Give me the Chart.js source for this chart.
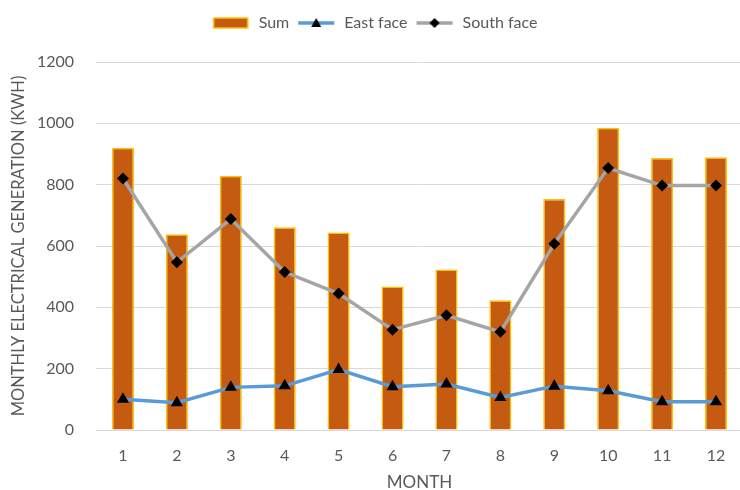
<!DOCTYPE html>
<html lang="en">
<head>
  <meta charset="UTF-8">
  <title>Monthly electrical generation</title>
  <style>
    body { margin: 0; overflow: hidden; background: #fff; }
    #wrap { width: 750px; height: 490px; }
  </style>
</head>
<body>
  <div id="wrap"><canvas id="myChart"></canvas></div>
  <script src="https://cdn.jsdelivr.net/npm/chart.js"></script>
  <script>
    const months = ['1', '2', '3', '4', '5', '6', '7', '8', '9', '10', '11', '12']
    const sumValues = [920, 638, 829, 661, 644, 468, 523, 423, 753, 986, 887, 889]
    const eastValues = [100, 89, 139, 144, 197, 141, 150, 106, 143, 128, 92, 92]
    const southValues = [820, 547, 688, 515, 445, 327, 374, 320, 607, 854, 797, 797]
    const yTicks = [0, 200, 400, 600, 800, 1000, 1200]

    const font = 'Lato'
    const textColor = '#595959'

    // little pictures for the legend: bar box, line with marker
    function legendIcon(kind) {
      const c = document.createElement('canvas')
      c.width = 40; c.height = 14
      const g = c.getContext('2d')
      if (kind === 'bar') {
        g.fillStyle = '#C55A11'
        g.fillRect(3, 2, 34, 10)
        g.strokeStyle = '#FFC000'
        g.lineWidth = 1.5
        g.strokeRect(3, 2, 34, 10)
      } else {
        g.strokeStyle = kind === 'tri' ? '#5B9BD5' : '#A5A5A5'
        g.lineWidth = 3.5
        g.beginPath(); g.moveTo(2, 7); g.lineTo(38, 7); g.stroke()
        g.fillStyle = '#000'
        g.beginPath()
        if (kind === 'tri') {
          g.moveTo(20, 2); g.lineTo(25, 11); g.lineTo(15, 11)
        } else {
          g.moveTo(20, 2); g.lineTo(25, 7); g.lineTo(20, 12); g.lineTo(15, 7)
        }
        g.closePath(); g.fill()
      }
      return c
    }
    const icons = [legendIcon('bar'), legendIcon('tri'), legendIcon('dia')]

    // extra room between legend and plot
    const legendGap = {
      id: 'legendGap',
      beforeInit(chart) {
        const fit = chart.legend.fit
        chart.legend.fit = function () {
          fit.bind(chart.legend)()
          this.height += 21
        }
      }
    }

    const ctx = document.getElementById('myChart')

    new Chart(ctx, {
      type: 'bar',
      data: {
        labels: months,
        datasets: [{
          label: 'Sum',
          data: sumValues,
          backgroundColor: '#C55A11',
          borderColor: '#FFC000',
          borderWidth: 1.5,
          barPercentage: 0.41,
          categoryPercentage: 1,
          order: 3
        }, {
          type: 'line',
          label: 'East face',
          data: eastValues,
          borderColor: '#5B9BD5',
          borderWidth: 3.5,
          pointStyle: 'triangle',
          pointRadius: 7,
          pointBackgroundColor: '#000',
          pointBorderColor: '#000',
          pointBorderWidth: 0,
          order: 2
        }, {
          type: 'line',
          label: 'South face',
          data: southValues,
          borderColor: '#A5A5A5',
          borderWidth: 3.5,
          pointStyle: 'rectRot',
          pointRadius: 6,
          pointBackgroundColor: '#000',
          pointBorderColor: '#000',
          pointBorderWidth: 0,
          order: 1
        }]
      },
      plugins: [legendGap],
      options: {
        responsive: true,
        maintainAspectRatio: false,
        animation: false,
        layout: { padding: { top: 8, right: 2, left: 0, bottom: 0 } },
        plugins: {
          tooltip: { enabled: false },
          legend: {
            position: 'top',
            labels: {
              usePointStyle: true,
              pointStyleWidth: 40,
              padding: 7,
              color: textColor,
              font: { family: font, size: 16 },
              generateLabels: chart => chart.data.datasets.map((ds, i) => ({
                text: ds.label,
                pointStyle: icons[i],
                datasetIndex: i,
                hidden: false,
                fontColor: textColor,
                lineWidth: 0
              }))
            }
          }
        },
        scales: {
          x: {
            afterFit: scale => { scale.height = 60 },
            grid: { display: false },
            border: { color: '#D9D9D9' },
            ticks: { color: textColor, font: { family: font, size: 16 }, padding: 8 },
            title: { display: true, text: 'MONTH', color: textColor, font: { family: font, size: 17 }, padding: { top: 0, bottom: -3 } }
          },
          y: {
            min: 0,
            max: 1200,
            afterBuildTicks: scale => { scale.ticks = yTicks.map(v => ({ value: v })) },
            afterFit: scale => { scale.width = 96 },
            grid: { color: '#D9D9D9', drawTicks: false },
            border: { display: false },
            ticks: { color: textColor, font: { family: font, size: 16 }, padding: 22, callback: v => String(v) },
            title: { display: true, text: 'MONTHLY ELECTRICAL GENERATION (KWH)', color: textColor, font: { family: font, size: 16.5 }, padding: { top: 9, bottom: 0 } }
          }
        }
      }
    })
  </script>
</body>
</html>
